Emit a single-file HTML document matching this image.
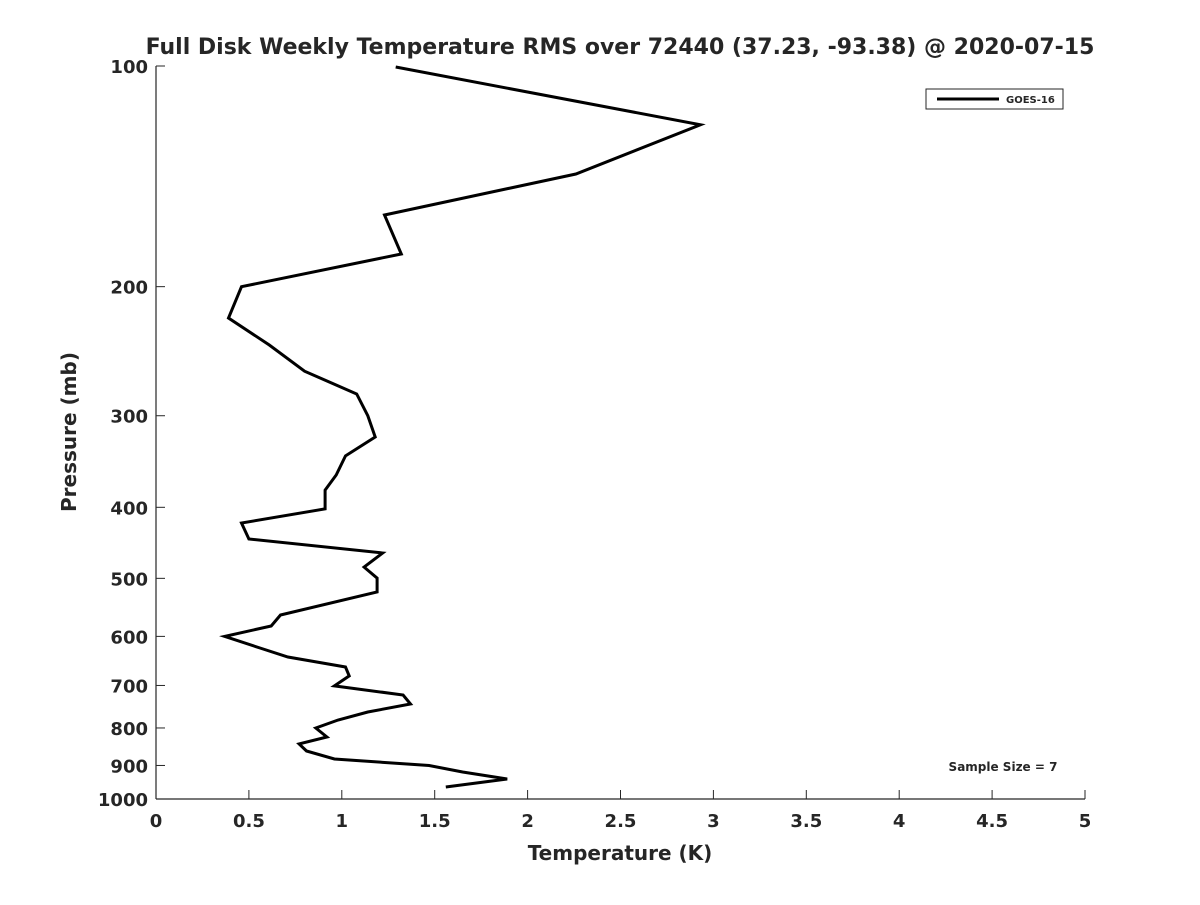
<!DOCTYPE html>
<html><head><meta charset="utf-8"><style>
body{margin:0;background:#fff;width:1200px;height:900px;overflow:hidden}
svg text{font-family:"DejaVu Sans","Liberation Sans",sans-serif;font-weight:bold;fill:#262626}
</style></head><body>
<svg id="chart" width="1200" height="900" xmlns="http://www.w3.org/2000/svg">
<rect width="1200" height="900" fill="#fff"/>
<text x="620" y="54" text-anchor="middle" font-size="22">Full Disk Weekly Temperature RMS over 72440 (37.23, -93.38) @ 2020-07-15</text>
<g id="axes"></g>
<text x="620" y="860" text-anchor="middle" font-size="20">Temperature (K)</text>
<text transform="translate(76,432) rotate(-90)" text-anchor="middle" font-size="20">Pressure (mb)</text>
<g>
<rect x="926" y="89" width="137" height="20" fill="#fff" stroke="#262626" stroke-width="1"/>
<line x1="937" y1="99" x2="999" y2="99" stroke="#000" stroke-width="3"/>
<text x="1006" y="103" font-size="10">GOES-16</text>
</g>
<text x="1003" y="771" text-anchor="middle" font-size="12">Sample Size = 7</text>
</svg>
<script>
const temps=[1.29,2.93,2.26,1.23,1.32,0.46,0.39,0.61,0.80,1.08,1.14,1.18,1.02,0.97,0.91,0.91,0.46,0.50,1.22,1.12,1.19,1.19,0.67,0.62,0.37,0.56,0.71,1.02,1.04,0.96,1.33,1.37,1.14,0.98,0.86,0.92,0.77,0.81,0.96,1.47,1.65,1.89,1.56];
const pressures=[100.3,120.3,140.4,159.7,180.5,200,220.7,240.2,260.8,280.2,300,320.7,340.4,361.4,378.9,402,420.2,441.8,461.7,482.6,499.6,521.9,561,580.7,600,622.3,640.2,660.6,679.4,701,721.2,742,760.9,780.2,800,823,841,860,882,900,918.7,939,963];
const xTicks=[0,0.5,1,1.5,2,2.5,3,3.5,4,4.5,5];
const xTickLabels=["0","0.5","1","1.5","2","2.5","3","3.5","4","4.5","5"];
const yTicks=[100,200,300,400,500,600,700,800,900,1000];
const X0=156,X1=1085,Y0=66,Y1=799;
const xs=v=>X0+(v-0)/(5-0)*(X1-X0);
const ys=p=>Y0+(Math.log10(p)-2)*(Y1-Y0);
const NS="http://www.w3.org/2000/svg";
const svg=document.getElementById('chart');const ax=document.getElementById('axes');
function mk(t,a,parent){const e=document.createElementNS(NS,t);for(const k in a)e.setAttribute(k,a[k]);(parent||ax).appendChild(e);return e;}
const xl=mk('line',{x1:X0,y1:Y1,x2:X1,y2:Y1,stroke:'#262626','stroke-width':1.2});


const yl=mk('line',{x1:X0,y1:Y0,x2:X0,y2:Y1,stroke:'#262626','stroke-width':1.2});


xTicks.forEach((v,i)=>{
 mk('line',{x1:xs(v),y1:Y1,x2:xs(v),y2:Y1-9,stroke:'#262626','stroke-width':1});
 const t=mk('text',{x:xs(v),y:Y1+28,'text-anchor':'middle','font-size':18});
 t.textContent=xTickLabels[i];
 
 
});
yTicks.forEach(p=>{
 mk('line',{x1:X0,y1:ys(p),x2:X0+9,y2:ys(p),stroke:'#262626','stroke-width':1});
 const t=mk('text',{x:X0-8,y:ys(p)+7,'text-anchor':'end','font-size':18});
 t.textContent=String(p);
 
 
});
const pts=temps.map((t,i)=>xs(t).toFixed(1)+','+ys(pressures[i]).toFixed(1)).join(' ');
const line=mk('polyline',{points:pts,fill:'none',stroke:'#000','stroke-width':3,'stroke-linejoin':'miter'},svg);


</script>
</body></html>
